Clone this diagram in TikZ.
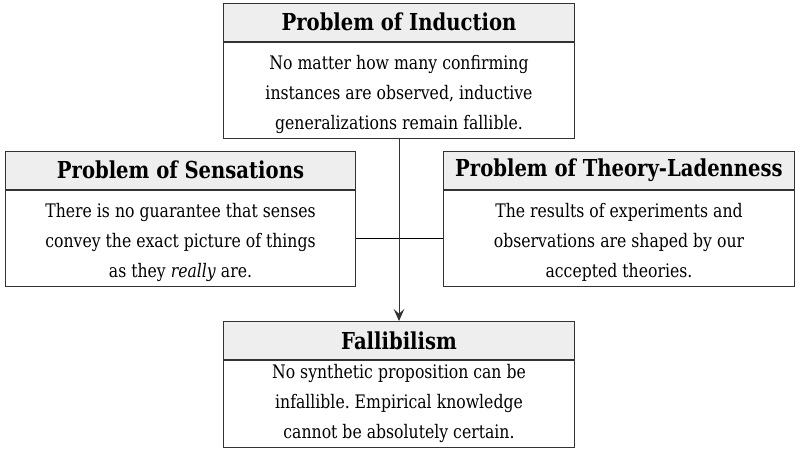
\documentclass[tikz,border=0pt]{standalone}
\usepackage{fontspec}
\setmainfont{DejaVu Serif}[FakeStretch=0.84]
\usepackage{tikz}
\frenchspacing
\definecolor{headgray}{RGB}{238,238,238}
\definecolor{linegray}{RGB}{50,50,50}
\usetikzlibrary{positioning,arrows.meta}
\tikzset{%
  head/.style={draw=linegray, line width=0.75pt, fill=headgray, rectangle,
    minimum width=263pt, minimum height=28.5pt, inner sep=0pt,
    font=\fontsize{17.5}{20}\selectfont\bfseries},% box title
  body/.style={draw=linegray, line width=0.75pt, fill=white, rectangle,
    minimum width=263pt, minimum height=72pt, inner sep=0pt, align=center,
    font=\fontsize{14}{22.5}\selectfont},% box text
  link/.style={draw=linegray, line width=0.75pt}% connector
}
\begin{document}
\begin{tikzpicture}[x=0.75pt, y=-0.75pt]
\useasboundingbox (0,0) rectangle (800,462);

\node[head] (ind) at (399, 22) {Problem of Induction};
\node[body, below=0pt of ind] (indtext) {\rule{0pt}{17pt}No matter how many confirming\\
  instances are observed, inductive\\ generalizations remain fallible.};

\node[head] (sen) at (180.5, 170) {Problem of Sensations};
\node[body, below=0pt of sen] (sentext) {\rule{0pt}{17pt}There is no guarantee that senses\\
  convey the exact picture of things\\ as they \textit{really} are.};

\node[head] (the) at (619, 170) {Problem of Theory-Ladenness};
\node[body, below=0pt of the] (thetext) {\rule{0pt}{17pt}The results of experiments and\\
  observations are shaped by our\\ accepted theories.};

\node[head] (fal) at (399, 340.5) {Fallibilism};
\node[body, below=0pt of fal, minimum height=65pt] (faltext) {No synthetic proposition can be\\
  infallible. Empirical knowledge\\ cannot be absolutely certain.};

\draw (sentext) edge[link, line width=0.6pt, black] (thetext);
\draw (indtext) edge[link, -{Stealth[length=9pt, width=8pt, inset=3.5pt]}] (fal);

\end{tikzpicture}
\end{document}
